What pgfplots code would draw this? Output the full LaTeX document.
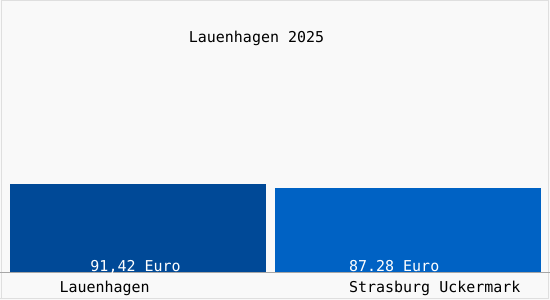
\documentclass[border=0pt]{standalone}
\usepackage{pgfplots}
\pgfplotsset{compat=1.18}
\usepackage{fontspec}
\setmainfont{DejaVu Sans Mono}
\definecolor{barA}{RGB}{0,73,151}
\definecolor{barB}{RGB}{0,98,196}
\definecolor{bg}{RGB}{249,249,249}
\begin{document}
\begin{tikzpicture}[x=1pt,y=1pt]
\fill[bg] (0,0) rectangle (550,300);
\draw[gray!25] (1,0.5) -- (1,299.5) -- (549,299.5);
\draw[gray!25] (0,1) -- (549,1) -- (549,299.5);
\begin{axis}[
  at={(10pt,27pt)}, anchor=origin,
  scale only axis, width=531pt, height=263pt,
  xmin=10, xmax=541, ymin=0, ymax=270.1,
  axis lines=none, clip=false,
]
\addplot[ybar, bar shift=0pt, bar width=256, fill=barA, draw=none] coordinates {(138,91.42)};
\addplot[ybar, bar shift=0pt, bar width=266, fill=barB, draw=none] coordinates {(408,87.28)};
\end{axis}
\draw[gray!70, line width=0.8pt] (0,27) -- (550,27);
\node[anchor=base, inner sep=0, font=\fontsize{15}{15}\selectfont] at (256.5,257.3) {Lauenhagen 2025};
\node[anchor=base west, inner sep=0, text=white, font=\fontsize{15}{15}\selectfont] at (90,28) {91,42 Euro};
\node[anchor=base west, inner sep=0, text=white, font=\fontsize{15}{15}\selectfont] at (349,28) {87.28 Euro};
\node[anchor=base west, inner sep=0, font=\fontsize{15}{15}\selectfont] at (59,7.5) {Lauenhagen};
\node[anchor=base west, inner sep=0, font=\fontsize{15}{15}\selectfont] at (349,7.5) {Strasburg Uckermark};
\end{tikzpicture}
\end{document}
